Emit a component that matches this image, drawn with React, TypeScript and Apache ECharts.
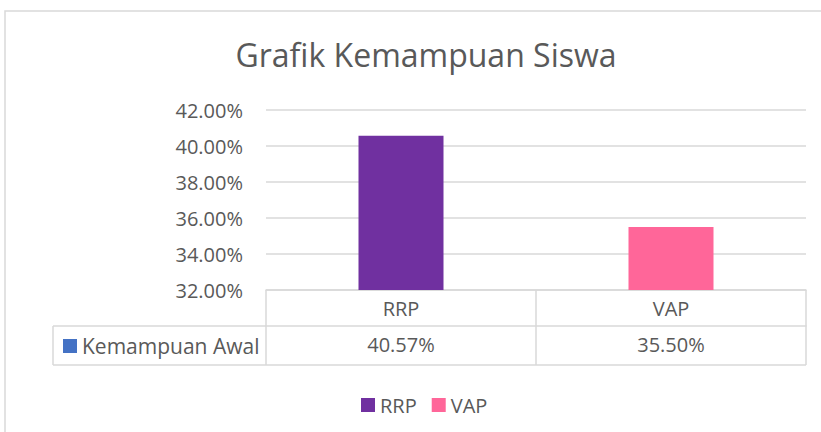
import React, { useEffect, useRef } from "react";
import * as echarts from "echarts";

const categories = ["RRP", "VAP"];
const seriesName = "Kemampuan Awal";
const values = [40.57, 35.5];
const colors = ["#7030A0", "#FF6699"];
const yMin = 32;
const yMax = 42;
const yStep = 2;

const FONT = "'Open Sans', sans-serif";
const TXT = "#595959";
const LINE = "#D9D9D9";

export default function App() {
  const ref = useRef<HTMLDivElement>(null);
  useEffect(() => {
    if (!ref.current) return;
    const chart = echarts.init(ref.current, undefined, { renderer: "svg" });
    const fmt = (v: number) => v.toFixed(2) + "%";
    chart.setOption({
      animation: false,
      backgroundColor: "#fff",
      textStyle: { fontFamily: FONT },
      title: {
        text: "Grafik Kemampuan Siswa",
        left: 421,
        textAlign: "center",
        top: 33,
        textStyle: { fontFamily: FONT, fontSize: 32, fontWeight: "normal", color: TXT },
      },
      legend: {
        data: categories,
        left: 361,
        top: 395,
        padding: 0,
        itemWidth: 14,
        itemHeight: 14,
        itemGap: 15,
        icon: "rect",
        textStyle: { fontFamily: FONT, fontSize: 20, color: TXT, padding: [0, 0, 0, 0] },
      },
      grid: { left: 266, right: 15, top: 110, bottom: 142, containLabel: false },
      xAxis: [
        {
          type: "category",
          data: categories,
          position: "bottom",
          boundaryGap: true,
          axisLine: { show: true, lineStyle: { color: LINE, width: 1.5 } },
          axisTick: { show: true, length: 36, alignWithLabel: false, lineStyle: { color: LINE, width: 1.5 } },
          axisLabel: { margin: 8, fontFamily: FONT, fontSize: 20, color: TXT },
        },
        {
          type: "category",
          data: values.map(fmt),
          position: "bottom",
          offset: 36,
          boundaryGap: true,
          axisLine: { show: true, lineStyle: { color: LINE, width: 1.5 } },
          axisTick: { show: true, length: 39, alignWithLabel: false, lineStyle: { color: LINE, width: 1.5 } },
          axisLabel: { margin: 8, fontFamily: FONT, fontSize: 20, color: TXT },
        },
      ],
      yAxis: {
        type: "value",
        min: yMin,
        max: yMax,
        interval: yStep,
        axisLine: { show: false },
        axisTick: { show: false },
        splitLine: { lineStyle: { color: LINE, width: 1.5 } },
        axisLabel: { formatter: (v: number) => fmt(v), margin: 23, fontFamily: FONT, fontSize: 20, color: TXT },
      },
      series: categories.map((c, i) => ({
        name: c,
        type: "bar",
        stack: "all",
        barWidth: 85,
        itemStyle: { color: colors[i] },
        data: values.map((v, j) => (j === i ? v : "-")),
      })),
      graphic: [
        {
          type: "rect",
          shape: { x: 5, y: 11, width: 900, height: 500 },
          style: { fill: "none", stroke: LINE, lineWidth: 1.5 },
          silent: true,
        },
        { type: "line", shape: { x1: 53, y1: 326, x2: 266, y2: 326 }, style: { stroke: LINE, lineWidth: 1.5 } },
        { type: "line", shape: { x1: 53, y1: 365, x2: 806, y2: 365 }, style: { stroke: LINE, lineWidth: 1.5 } },
        { type: "line", shape: { x1: 53, y1: 326, x2: 53, y2: 365 }, style: { stroke: LINE, lineWidth: 1.5 } },
        { type: "rect", shape: { x: 63, y: 339, width: 14, height: 14 }, style: { fill: "#4472C4" } },
        {
          type: "text",
          x: 82,
          y: 346,
          style: { text: seriesName, font: `21px ${FONT}`, fill: TXT, verticalAlign: "middle" },
        },
      ],
    });
    return () => chart.dispose();
  }, []);
  return (
    <div
      ref={ref}
      style={{ position: "absolute", left: 0, top: 0, width: 821, height: 432 }}
    />
  );
}
